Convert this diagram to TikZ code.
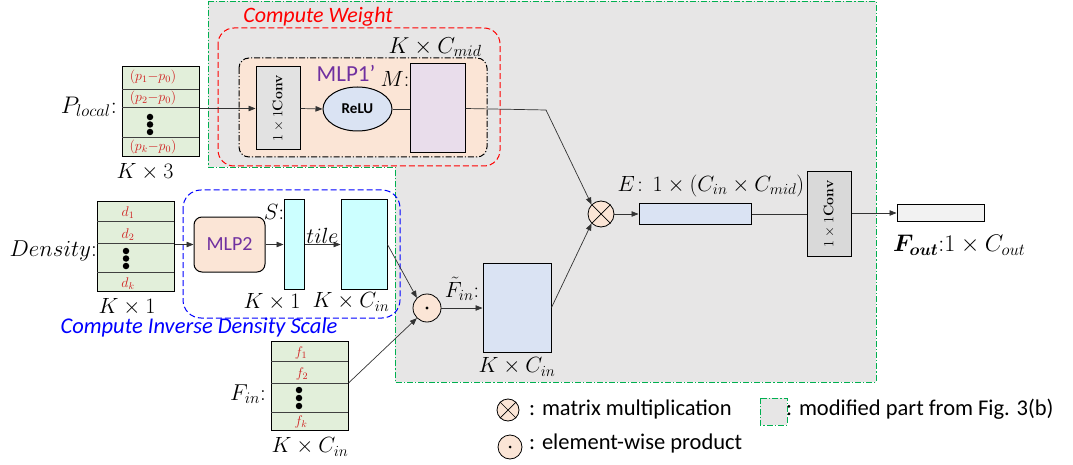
\RequirePackage{fix-cm}
\documentclass[tikz,border=0pt]{standalone}
\usepackage{amsmath,bm}
\usepackage{fontspec}
\setsansfont{Carlito}
\usetikzlibrary{arrows.meta,shapes.geometric}
\definecolor{graybg}{HTML}{E7E6E6}
\definecolor{gline}{HTML}{00B050}
\definecolor{matg}{HTML}{E2EFDA}
\definecolor{orfill}{HTML}{FBE5D6}
\definecolor{bluef}{HTML}{DAE3F3}
\definecolor{lavf}{HTML}{E9DDEB}
\definecolor{cyanf}{HTML}{CCFFFF}
\definecolor{purp}{HTML}{7030A0}
\definecolor{convl}{HTML}{E2E2E2}
\definecolor{convr}{HTML}{D9D9D9}
\definecolor{foutf}{HTML}{F2F2F2}
\definecolor{mred}{HTML}{D02020}
\definecolor{bblue}{HTML}{0000FF}
\tikzset{
  bx/.style={draw=black, line width=1pt, inner sep=0pt, anchor=center},
  matbox/.style={bx, fill=matg, minimum width=77pt, minimum height=89pt},
  arr/.style={-{Triangle[length=7pt,width=5.5pt]}, line width=0.7pt, draw=black!80},
  ln/.style={line width=0.7pt, draw=black!80},
  rowln/.style={line width=0.8pt, draw=black!75},
  lbl/.style={inner sep=0pt, font=\fontsize{22}{26}\selectfont},
  rlbl/.style={inner sep=0pt, text=mred, font=\fontsize{14}{16}\selectfont},
  sans/.style={inner sep=0pt, font=\sffamily\fontsize{21}{25}\selectfont},
  dotc/.style={circle, fill=black, inner sep=0pt, minimum size=6.5pt},
  opc/.style={circle, draw=black, line width=0.8pt, fill=orfill, inner sep=0pt},
  gdash/.style={draw=gline, line width=0.9pt, dash pattern=on 6pt off 2pt on 1.2pt off 2pt},
  convtxt/.style={font=\fontsize{14}{16}\selectfont, rotate=90}
}
\begin{document}
\begin{tikzpicture}[x=1pt,y=-1pt]
\useasboundingbox (0,0) rectangle (1073,465);
% modified region
\fill[graybg] (208,1) -- (876,1) -- (876,382) -- (395,382) -- (395,167) -- (208,167) -- cycle;
\draw[gdash] (208,1) -- (876,1) -- (876,382) -- (395,382) -- (395,167) -- (208,167) -- cycle;

% Compute weight block
\draw[draw=red, line width=1pt, dashed, dash pattern=on 6pt off 3pt, rounded corners=16pt] (218,28) rectangle (500,166);
\node[sans, text=red, font=\sffamily\itshape\fontsize{22}{26}\selectfont] (cwl) at (318,17) {Compute Weight};
\node[lbl, font=\fontsize{23}{27}\selectfont] (kcm) at (435,47) {$K\times C_{mid}$};
\draw[fill=orfill, line width=1pt, dash pattern=on 6pt off 2pt on 1.2pt off 2pt, rounded corners=10pt] (239,58) rectangle (487,157);
\node[bx, fill=convl, minimum width=44pt, minimum height=83pt] (conv1) at (278,108.5) {};
\node[convtxt] (conv1t) at (conv1) {$1\times 1$\textbf{Conv}};
\node[sans, text=purp, font=\sffamily\fontsize{23}{27}\selectfont] (mlp1l) at (346,73) {MLP1’};
\node[bx, ellipse, fill=bluef, minimum width=69pt, minimum height=44pt, font=\sffamily\bfseries\fontsize{15}{17}\selectfont] (relu) at (357.5,109) {ReLU};
\node[lbl] (ml) at (395,79) {$M$:};
\node[bx, fill=lavf, minimum width=55pt, minimum height=89pt] (mb) at (437.5,108.5) {};

% P_local matrix
\node[matbox, minimum height=90pt] (pl) at (160.5,112) {};
\draw[rowln] (122,89) -- (199,89);
\draw[rowln] (122,107) -- (199,107);
\draw[rowln] (122,137) -- (199,137);
\node[rlbl] (p1) at (153,77) {$(p_1{-}p_0)$};
\node[rlbl] (p2) at (153,98) {$(p_2{-}p_0)$};
\node[dotc] (pd1) at (150,117) {};
\node[dotc] (pd2) at (150,124.5) {};
\node[dotc] (pd3) at (150,132) {};
\node[rlbl] (pk) at (153,147) {$(p_k{-}p_0)$};
\node[lbl, anchor=east, font=\fontsize{24}{28}\selectfont] (pll) at (117,107) {$P_{local}$:};
\node[lbl] (k3) at (145,172) {$K\times 3$};

% Density block
\node[matbox] (dm) at (135.5,246.5) {};
\draw[rowln] (97,221) -- (174,221);
\draw[rowln] (97,243) -- (174,243);
\draw[rowln] (97,272) -- (174,272);
\node[rlbl] (d1) at (128,213) {$d_1$};
\node[rlbl] (d2) at (128,235) {$d_2$};
\node[dotc] (dd1) at (126,251) {};
\node[dotc] (dd2) at (126,258.5) {};
\node[dotc] (dd3) at (126,266) {};
\node[rlbl] (dk) at (128,284) {$d_k$};
\node[lbl, anchor=east, font=\fontsize{23}{27}\selectfont] (dl) at (97,251) {$Density$:};
\node[lbl] (k1a) at (127,307) {$K\times 1$};

\draw[draw=bblue, line width=1pt, dash pattern=on 6pt off 3pt, rounded corners=18pt] (183,190) rectangle (400,318);
\node[sans, text=bblue, font=\sffamily\itshape\fontsize{22.5}{26}\selectfont] (cidl) at (199,327) {Compute Inverse Density Scale};
\node[bx, fill=orfill, rounded corners=8pt, minimum width=71pt, minimum height=55pt, text=purp, font=\sffamily\fontsize{20}{24}\selectfont] (mlp2) at (229.5,244.5) {MLP2};
\node[bx, fill=cyanf, minimum width=20pt, minimum height=89pt] (sb) at (294,244.5) {};
\node[lbl] (sl) at (274,212) {$S$:};
\node[bx, fill=cyanf, minimum width=46pt, minimum height=89pt] (tb) at (364,244.5) {};
\node[lbl] (k1b) at (272,302) {$K\times 1$};
\node[lbl] (kcina) at (351,302) {$K\times C_{in}$};

% F_in matrix
\node[matbox] (fm) at (309.5,385.5) {};
\draw[rowln] (271,361) -- (348,361);
\draw[rowln] (271,383) -- (348,383);
\draw[rowln] (271,412) -- (348,412);
\node[rlbl] (f1) at (301,353) {$f_1$};
\node[rlbl] (f2) at (302,374) {$f_2$};
\node[dotc] (fd1) at (299,390) {};
\node[dotc] (fd2) at (299,398) {};
\node[dotc] (fd3) at (299,406) {};
\node[rlbl] (fk) at (301,422) {$f_k$};
\node[lbl, anchor=east, font=\fontsize{23}{27}\selectfont] (fl) at (266,394) {$F_{in}$:};
\node[lbl] (kcinb) at (310,447) {$K\times C_{in}$};

% element-wise product
\node[opc, minimum size=28pt] (ew) at (427,308) {};
\fill (ew.center) circle (1.6pt);
\node[bx, fill=bluef, minimum width=68pt, minimum height=89pt] (fb) at (517,307.5) {};
\node[lbl, anchor=south] (fbl) at (462,301) {$\tilde{F}_{in}$:};
\node[lbl] (kcinc) at (517,367) {$K\times C_{in}$};

% matrix multiplication
\node[opc, minimum size=26pt] (mm) at (601,214) {};
\draw[line width=0.7pt] (mm.north west) -- (mm.south east) (mm.north east) -- (mm.south west);
\node[bx, fill=bluef, minimum width=112pt, minimum height=21pt] (eb) at (695,214) {};
\node[lbl] (el) at (711,186) {$E\!:\,1\times(C_{in}\times C_{mid})$};
\node[bx, fill=convr, minimum width=44pt, minimum height=84pt] (conv2) at (829,214) {};
\node[convtxt] (conv2t) at (conv2) {$1\times 1$\textbf{Conv}};
\node[bx, fill=foutf, minimum width=87pt, minimum height=16pt] (fo) at (940.5,213) {};
\node[lbl, anchor=west, font=\fontsize{24}{28}\selectfont] (fol) at (893,245) {$\bm{F_{out}}\mathbf{:}1\times C_{out}$};

% connectors
\draw[arr] (pl.east |- conv1.west) -- (conv1.west);
\draw[arr] (conv1.east) -- (relu.west);
\draw[ln] (relu.east) -- (mb.west |- relu.east);
\coordinate (kink) at (546,110);
\draw[arr] (mb.east) -- (kink) -- (mm.north west);
\draw[arr] (dm.east |- mlp2.west) -- (mlp2.west);
\draw[arr] (mlp2.east) -- (sb.west |- mlp2.east);
\draw[arr] (sb.east) -- node[lbl, above, yshift=1pt] (tilel) {$tile$} (tb.west);
\draw[arr] (tb.east) -- (ew.north west);
\draw[arr] (fm.east |- 0,383) -- (ew.south west);
\draw[arr] (ew.east) -- (fb.west |- ew.east);
\draw[arr] (fb.east) -- (mm.south west);
\draw[arr] (mm.east) -- (eb.west);
\draw[ln] (eb.east) -- (conv2.west |- eb.east);
\draw[arr] (conv2.east |- fo.west) -- (fo.west);

% legend
\node[opc, minimum size=22pt] (lmm) at (508,410) {};
\draw[line width=0.7pt] (lmm.north west) -- (lmm.south east) (lmm.north east) -- (lmm.south west);
\node[sans, anchor=west, font=\sffamily\fontsize{22.5}{26}\selectfont] (lmmt) at (529,409) {: matrix multiplication};
\node[opc, minimum size=24pt] (lew) at (510,447) {};
\fill (lew.center) circle (1.5pt);
\node[sans, anchor=west, font=\sffamily\fontsize{22.5}{26}\selectfont] (lewt) at (529,443) {: element-wise product};
\fill[graybg] (760,398) rectangle (787,425);
\draw[gdash] (760,398) rectangle (787,425);
\node[sans, anchor=west, font=\sffamily\fontsize{22.5}{26}\selectfont] (lgt) at (786,409) {: modified part from Fig. 3(b)};
\end{tikzpicture}
\end{document}
